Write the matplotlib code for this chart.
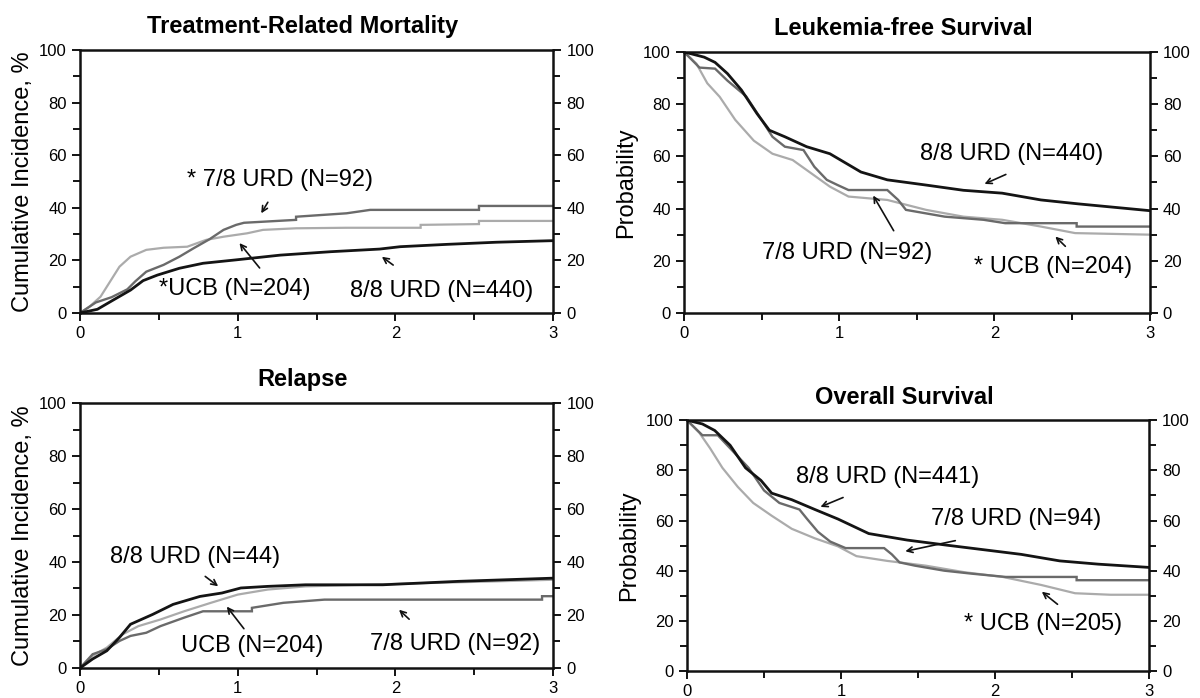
import numpy as np
import matplotlib.pyplot as plt
from matplotlib.ticker import MultipleLocator

plt.rcParams['font.family'] = ['Liberation Sans', 'DejaVu Sans']

BLACK = '#141414'
DARK = '#6a6a6a'
LIGHT = '#ababab'

# Treatment-Related Mortality (cumulative incidence, %)
trm_88_t = [0, 0.11, 0.21, 0.32, 0.40, 0.49, 0.63, 0.78, 0.99, 1.27, 1.59, 1.90, 2.03, 2.33, 2.64, 3.0]
trm_88_v = [0, 1.4, 4.9, 8.7, 12.3, 14.4, 17.0, 18.9, 20.2, 22.0, 23.3, 24.3, 25.2, 26.1, 26.9, 27.5]
trm_78_t = [0, 0.06, 0.1, 0.2, 0.3, 0.35, 0.42, 0.53, 0.63, 0.72, 0.82, 0.91, 0.99, 1.04, 1.37, 1.37, 1.69, 1.84, 2.53, 2.53, 3.0]
trm_78_v = [0, 2.4, 4.0, 6.0, 9.0, 12.0, 15.7, 18.3, 21.4, 24.6, 28.0, 31.6, 33.5, 34.3, 35.4, 36.6, 37.9, 39.2, 39.2, 40.7, 40.7]
trm_ucb_t = [0, 0.06, 0.13, 0.19, 0.25, 0.32, 0.42, 0.53, 0.68, 0.80, 0.91, 1.06, 1.16, 1.37, 1.69, 2.16, 2.16, 2.53, 2.53, 3.0]
trm_ucb_v = [0, 2.4, 6.2, 11.9, 17.6, 21.4, 24.0, 24.8, 25.2, 27.8, 29.0, 30.3, 31.6, 32.2, 32.4, 32.4, 33.5, 33.8, 35.0, 35.0]

# Leukemia-free Survival (probability, %)
lfs_88_t = [0, 0.13, 0.2, 0.28, 0.37, 0.47, 0.55, 0.65, 0.79, 0.94, 1.14, 1.31, 1.56, 1.80, 2.05, 2.30, 2.54, 3.0]
lfs_88_v = [100, 98, 96, 91.7, 85.4, 76.4, 70, 67.5, 63.7, 61, 54, 51, 49, 47, 45.9, 43.3, 41.8, 39.2]
lfs_78_t = [0, 0.1, 0.2, 0.28, 0.4, 0.5, 0.57, 0.65, 0.77, 0.84, 0.92, 0.99, 1.06, 1.31, 1.38, 1.43, 1.68, 1.93, 2.07, 2.53, 2.53, 3.0]
lfs_78_v = [100, 94, 93.6, 89, 83, 74, 67.5, 63.7, 62.4, 56, 51, 49, 47.1, 47.1, 43.3, 39.5, 36.9, 35.7, 34.4, 34.4, 33.1, 33.1]
lfs_ucb_t = [0, 0.08, 0.15, 0.23, 0.33, 0.45, 0.57, 0.7, 0.82, 0.94, 1.06, 1.31, 1.56, 1.80, 2.05, 2.30, 2.52, 3.0]
lfs_ucb_v = [100, 95.5, 88, 82.8, 74, 66, 61, 58.6, 53.5, 48.4, 44.6, 43.3, 39.5, 36.9, 35.7, 33.1, 30.6, 30]

# Relapse (cumulative incidence, %)
rel_88_t = [0, 0.08, 0.17, 0.25, 0.32, 0.46, 0.59, 0.76, 0.9, 1.02, 1.19, 1.43, 1.92, 2.40, 3.0]
rel_88_v = [0, 3.4, 6.5, 11.5, 16.5, 20.2, 24, 27, 28.3, 30.2, 30.8, 31.4, 31.4, 32.7, 33.9]
rel_78_t = [0, 0.08, 0.17, 0.25, 0.32, 0.42, 0.51, 0.66, 0.78, 1.09, 1.09, 1.29, 1.55, 2.93, 2.93, 3.0]
rel_78_v = [0, 5.2, 7.1, 10.2, 12.1, 13.3, 15.8, 19, 21.4, 21.4, 22.7, 24.6, 25.8, 25.8, 27.1, 27.1]
rel_ucb_t = [0, 0.08, 0.17, 0.27, 0.37, 0.51, 0.66, 0.83, 1.0, 1.19, 1.43, 1.68, 2.16, 2.64, 3.0]
rel_ucb_v = [0, 4.6, 7.7, 12.7, 15.8, 18.3, 21.4, 24.6, 27.7, 29.6, 30.8, 31.2, 32, 32.7, 33.3]

# Overall Survival (probability, %)
os_88_t = [0, 0.1, 0.18, 0.28, 0.38, 0.48, 0.55, 0.68, 0.83, 0.98, 1.18, 1.43, 1.67, 1.92, 2.17, 2.42, 2.67, 3.0]
os_88_v = [100, 98.5, 95.9, 90, 81, 76, 70.9, 68.3, 64.4, 60.6, 54.8, 52.2, 50.3, 48.4, 46.5, 43.9, 42.6, 41.3]
os_78_t = [0, 0.1, 0.2, 0.28, 0.4, 0.5, 0.6, 0.73, 0.78, 0.85, 0.93, 1.03, 1.28, 1.33, 1.38, 1.48, 1.67, 1.85, 2.07, 2.53, 2.53, 3.0]
os_78_v = [100, 94, 94, 88.8, 81, 72, 67, 64.4, 60.6, 55.5, 51.6, 49, 49, 46.5, 43.3, 42, 40, 38.8, 37.5, 37.5, 36.2, 36.2]
os_ucb_t = [0, 0.08, 0.15, 0.23, 0.33, 0.43, 0.55, 0.68, 0.83, 0.98, 1.1, 1.3, 1.55, 1.8, 2.05, 2.3, 2.52, 2.75, 3.0]
os_ucb_v = [100, 95, 88.8, 81, 73.4, 67, 61.9, 56.7, 52.9, 49.7, 45.8, 43.9, 42, 39.4, 37.5, 34.3, 31, 30.4, 30.4]

panels = [
    dict(title='Treatment-Related Mortality', ylabel='Cumulative Incidence, %',
         pos=[0.0667, 0.5516, 0.3942, 0.3768],
         curves=[(trm_ucb_t, trm_ucb_v, LIGHT, 1.6), (trm_78_t, trm_78_v, DARK, 1.7), (trm_88_t, trm_88_v, BLACK, 2.0)],
         notes=[('* 7/8 URD (N=92)', (1.27, 50.5), (1.2, 43), (1.14, 37)),
                ('*UCB (N=204)', (0.98, 9.0), (1.15, 16.3), (1.0, 27.4)),
                ('8/8 URD (N=440)', (2.29, 8.2), (2.0, 17.6), (1.9, 22))]),
    dict(title='Leukemia-free Survival', ylabel='Probability',
         pos=[0.570, 0.5516, 0.388, 0.374],
         curves=[(lfs_ucb_t, lfs_ucb_v, LIGHT, 1.6), (lfs_78_t, lfs_78_v, DARK, 1.7), (lfs_88_t, lfs_88_v, BLACK, 2.0)],
         notes=[('8/8 URD (N=440)', (2.11, 61), (2.09, 53.5), (1.92, 49)),
                ('7/8 URD (N=92)', (1.05, 23), (1.36, 30.6), (1.21, 45.9)),
                ('* UCB (N=204)', (2.38, 17.5), (2.47, 24.8), (2.38, 30))]),
    dict(title='Relapse', ylabel='Cumulative Incidence, %',
         pos=[0.0667, 0.043, 0.3942, 0.3796],
         curves=[(rel_ucb_t, rel_ucb_v, LIGHT, 1.6), (rel_78_t, rel_78_v, DARK, 1.7), (rel_88_t, rel_88_v, BLACK, 2.0)],
         notes=[('8/8 URD (N=44)', (0.73, 42), (0.78, 35.2), (0.89, 30.2)),
                ('UCB (N=204)', (1.09, 8.4), (1.05, 14), (0.92, 24)),
                ('7/8 URD (N=92)', (2.38, 9), (2.1, 17.7), (2.01, 22.7))]),
    dict(title='Overall Survival', ylabel='Probability',
         pos=[0.5725, 0.0387, 0.385, 0.3593],
         curves=[(os_ucb_t, os_ucb_v, LIGHT, 1.6), (os_78_t, os_78_v, DARK, 1.7), (os_88_t, os_88_v, BLACK, 2.0)],
         notes=[('8/8 URD (N=441)', (1.30, 77.3), (1.03, 69.6), (0.85, 65)),
                ('7/8 URD (N=94)', (2.14, 60.6), (1.76, 52.2), (1.4, 47.5)),
                ('* UCB (N=205)', (2.31, 18.9), (2.42, 25.9), (2.29, 32.3))]),
]

fig = plt.figure(figsize=(12, 6.98), dpi=100)

for p in panels:
    ax = fig.add_axes(p['pos'])
    for t, v, c, lw in p['curves']:
        ax.plot(t, v, color=c, lw=lw, solid_joinstyle='miter')
    ax.set_xlim(0, 3)
    ax.set_ylim(0, 100)
    ax.xaxis.set_major_locator(MultipleLocator(1))
    ax.xaxis.set_minor_locator(MultipleLocator(0.5))
    ax.yaxis.set_major_locator(MultipleLocator(20))
    ax.yaxis.set_minor_locator(MultipleLocator(10))
    ax.tick_params(axis='both', which='major', length=6, width=1.3, labelsize=12, direction='out')
    ax.tick_params(axis='both', which='minor', length=5, width=1.3, direction='out')
    ax.tick_params(axis='y', which='both', right=True, labelright=True)
    for s in ax.spines.values():
        s.set_linewidth(1.8)
        s.set_color('#111111')
    ax.set_title(p['title'], fontsize=17, fontweight='bold', x=0.47, pad=12)
    ax.set_ylabel(p['ylabel'], fontsize=17, labelpad=4)
    for txt, xy_t, a_from, a_to in p['notes']:
        ax.text(xy_t[0], xy_t[1], txt, fontsize=17, ha='center', va='center')
        ax.annotate('', xy=a_to, xytext=a_from,
                    arrowprops=dict(arrowstyle='->', color='#111111', lw=1.2, mutation_scale=10))

fig.savefig('out.png', dpi=100)
